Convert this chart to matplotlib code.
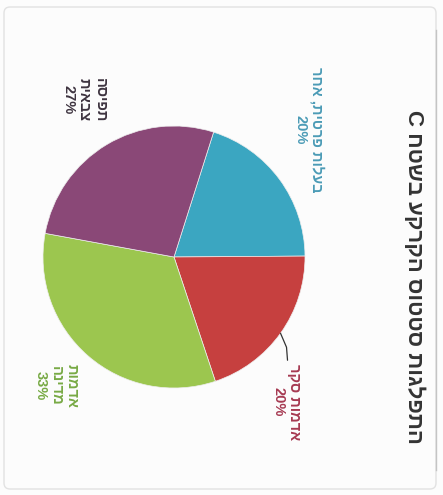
import numpy as np
import matplotlib
matplotlib.use('Agg')
import matplotlib.pyplot as plt
from matplotlib.patches import FancyBboxPatch

# data (logical Hebrew order, clockwise from the blue slice)
labels = ['בעלות פרטית, אחר', 'אדמות סקר', 'אדמות\nמדינה', 'תפיסה\nצבאית']
values = [20, 20, 33, 27]
colors = ['#3ba6c1', '#c6403f', '#9cc64f', '#8a4877']
label_colors = ['#4b9bb6', '#a63a52', '#78aa45', '#3e3440']
title = 'התפלגות סטטוס הקרקע בשטח C'

FONT = ['Liberation Sans', 'DejaVu Sans']


def visual(s):
    # matplotlib has no bidi: flip each Hebrew line into visual order
    out = []
    for line in s.split('\n'):
        words = line.split(' ')
        vis = []
        for w in reversed(words):
            if any('\u0590' <= ch <= '\u05ff' for ch in w):
                vis.append(w[::-1])
            else:
                vis.append(w)
        out.append(' '.join(vis))
    return '\n'.join(out)


W, H = 443, 495
fig = plt.figure(figsize=(W / 100, H / 100), dpi=100)
fig.patch.set_facecolor('#fcfcfc')
ax = fig.add_axes([0, 0, 1, 1])
ax.set_facecolor('#fcfcfc')

# page is scanned rotated 90 deg clockwise
cx, cy, r = 174, H - 257, 131
wedges, _ = ax.pie(values, colors=colors, startangle=72.4, counterclock=False,
                   center=(cx, cy), radius=r,
                   wedgeprops=dict(linewidth=0.5, edgecolor='#eeeeee'))

ax.set_xlim(0, W)
ax.set_ylim(0, H)
ax.set_aspect('equal')
ax.axis('off')

# frame of the original chart box
ax.add_patch(FancyBboxPatch((4, H - 489), 432, 482,
                            boxstyle='round,pad=0,rounding_size=6',
                            fill=False, edgecolor='#e2e2e2', lw=1.0))
ax.plot([436, 436], [H - 470, H - 30], color='#c4c4c4', lw=1.0)

# title, reads top-to-bottom
ax.text(414, H - 277, visual(title), rotation=-90, ha='center', va='center',
        fontsize=16, fontweight='bold', color='#333333', family=FONT)

label_pos = [(309, H - 130), (286, H - 402), (56, H - 386), (84, H - 100)]
for i, (lab, val) in enumerate(zip(labels, values)):
    txt = visual(lab) + '\n' + f'{val}%'
    ax.text(label_pos[i][0], label_pos[i][1], txt, rotation=-90,
            ha='center', va='center', multialignment='center',
            fontsize=10.5, fontweight='bold', color=label_colors[i],
            family=FONT, linespacing=1.15)

# leader line for the red slice
w = wedges[1]
mid = np.deg2rad((w.theta1 + w.theta2) / 2)
x0, y0 = cx + r * np.cos(mid), cy + r * np.sin(mid)
ax.plot([x0, x0 + 6, x0 + 7], [y0, y0 - 14, y0 - 27],
        color='#333333', lw=0.9, solid_capstyle='round')

fig.savefig('out.png', dpi=100, facecolor=fig.get_facecolor())
